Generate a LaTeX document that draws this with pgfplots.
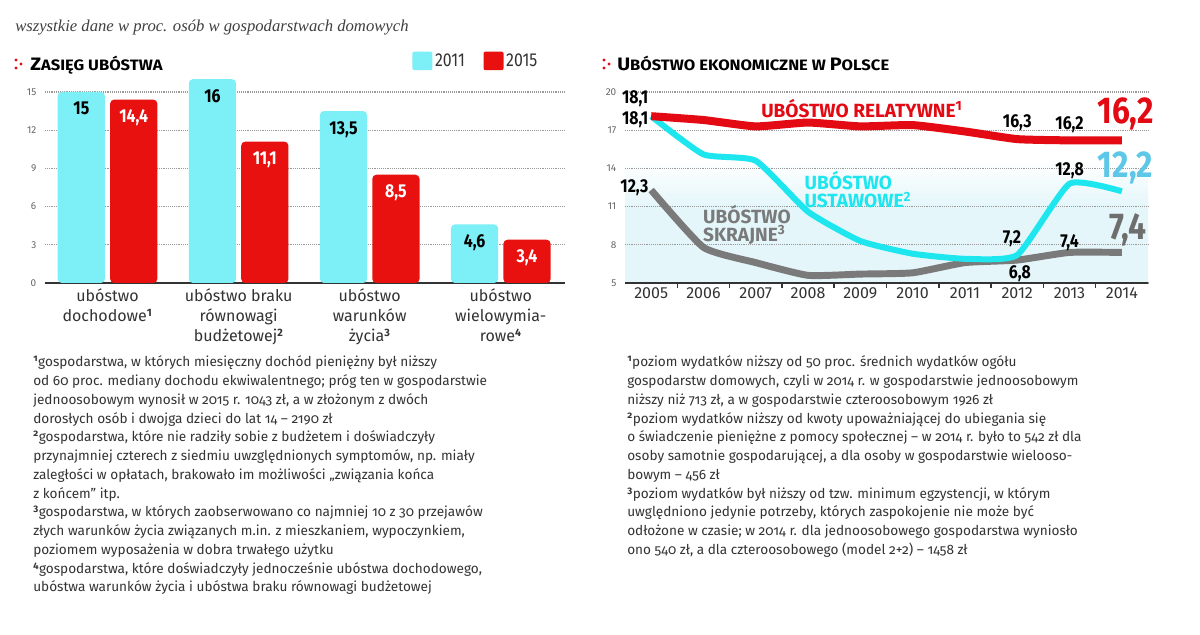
\documentclass[border=0pt]{standalone}
\usepackage{fontspec}
\setmainfont{Fira Sans}
\newfontfamily\cond{Fira Sans}[FakeStretch=0.85]
\newfontfamily\wide{Fira Sans}[FakeStretch=1.1]
\newfontfamily\subfont{Liberation Serif}
\usepackage{pgfplots}
\pgfplotsset{compat=1.18}
\definecolor{cbar}{HTML}{7DEFF7}
\definecolor{rbar}{HTML}{E8110F}
\definecolor{rline}{HTML}{E30A13}
\definecolor{cline}{HTML}{1EE6EF}
\definecolor{gline}{HTML}{7A7A7A}
\definecolor{clab}{HTML}{5CC7E6}
\definecolor{glab}{HTML}{6E6E6E}
\definecolor{txt}{HTML}{333333}
\definecolor{tint}{HTML}{E4F6FA}
\pgfdeclareverticalshading{tintshade}{100bp}{color(0bp)=(tint); color(45bp)=(tint); color(57bp)=(white); color(100bp)=(white)}
\newcommand\fnfont{\fontsize{10.2}{12}\selectfont\addfontfeatures{Numbers=OldStyle}}
\newcommand\fl[3]{\node[anchor=base west, inner sep=0pt, font=\fnfont, text=txt] at (#1,635-#2) {#3};}
\newcommand\fsup[1]{\textsuperscript{\bfseries #1}}
\newcommand\fsc[2]{{\fontsize{13.5}{13.5}\selectfont #1}{\fontsize{11.3}{11.3}\selectfont #2}}
\newcommand\icon[2]{\fill[rline] (#1,635-#2-4) circle (1.7); \fill[rline] (#1,635-#2+4) circle (1.7); \fill[rline] (#1+5,635-#2) circle (1.7);}
\tikzset{
  lab/.style={inner sep=0pt, font=\cond\bfseries\fontsize{14}{14}\selectfont, text=black},
  big/.style={inner sep=0pt, font=\cond\bfseries\fontsize{28}{28}\selectfont},
  ser/.style={inner sep=0pt, anchor=west, align=left, font=\bfseries\fontsize{14.3}{13.5}\selectfont},
}
\begin{document}
\begin{tikzpicture}[x=0.75pt,y=0.75pt]
\fill[white] (0,0) rectangle (1200,635);
\path[use as bounding box] (0,0) rectangle (1200,635);
% subtitle
\node[anchor=base west, inner sep=0pt, font=\subfont\itshape\fontsize{12.5}{13}\selectfont, text=black!75] at (15,635-31.5) {wszystkie dane w proc. osób w gospodarstwach domowych};
% titles
\icon{16}{64}
\node[anchor=base west, inner sep=0pt, font=\wide\bfseries] at (30,635-71) {\fsc{Z}{ASIĘG UBÓSTWA}};
\icon{604}{64}
\node[anchor=base west, inner sep=0pt, font=\wide\bfseries] at (617,635-71) {\fsc{U}{BÓSTWO EKONOMICZNE W }\fsc{P}{OLSCE}};

% ---------------- left chart
\begin{axis}[
  at={(33.75pt,264pt)}, anchor=south west,
  scale only axis, width=390pt, height=157.6pt,
  xmin=-0.477, xmax=3.49, ymin=0, ymax=16.5,
  axis x line*=bottom, axis y line*=left,
  y axis line style={draw=none},
  x axis line style={line width=1.3pt, draw=black!80},
  xtick={0,1,2,3},
  xticklabels={ubóstwo\\dochodowe\fsup{1}, ubóstwo braku\\równowagi\\budżetowej\fsup{2}, ubóstwo\\warunków\\życia\fsup{3}, ubóstwo\\wielowymia-\\rowe\fsup{4}},
  major tick length=0pt,
  xticklabel style={align=center, font=\fontsize{12}{15}\selectfont, text=txt, yshift=-1pt},
  ytick={0,3,6,9,12,15},
  yticklabel style={font=\fontsize{7.5}{8}\selectfont, text=black!60, xshift=-3pt},
  ymajorgrids, grid style={densely dotted, line width=1pt, black!40},
  /pgf/number format/assume math mode=true,
  /pgf/number format/use comma, /pgf/number format/fixed, /pgf/number format/precision=1,
  clip=false,
  legend style={draw=none, fill=none, at={(0.706,1.057)}, anchor=west, legend columns=2, inner sep=0pt, font=\cond\fontsize{14}{14}\selectfont, text=txt, /tikz/every even column/.append style={column sep=12pt}},
]
\addplot[ybar, fill=cbar, draw=none, bar width=0.36, bar shift=-0.2, rounded corners=3pt,
  nodes near coords, nodes near coords style={anchor=north, xshift=-19.65pt, yshift=-7.5pt, inner sep=0pt, font=\cond\bfseries\fontsize{14}{14}\selectfont, text=black},
  legend image code/.code={\fill[cbar, rounded corners=1.5pt] (0pt,-7pt) rectangle (15pt,7pt);}]
  coordinates {(0,15) (1,16) (2,13.5) (3,4.6)};
\addlegendentry{2011}
\addplot[ybar, fill=rbar, draw=none, bar width=0.36, bar shift=0.2, rounded corners=3pt,
  nodes near coords, nodes near coords style={anchor=north, xshift=19.65pt, yshift=-7.5pt, inner sep=0pt, font=\cond\bfseries\fontsize{14}{14}\selectfont, text=white},
  legend image code/.code={\fill[rbar, rounded corners=1.5pt] (0pt,-7pt) rectangle (15pt,7pt);}]
  coordinates {(0,14.4) (1,11.1) (2,8.5) (3,3.4)};
\addlegendentry{2015}
\end{axis}

% ---------------- right chart
\begin{axis}[
  at={(468.75pt,264pt)}, anchor=south west,
  scale only axis, width=392.25pt, height=143.25pt,
  xmin=2004.5, xmax=2014.5, ymin=5, ymax=20,
  axis x line*=bottom, axis y line*=left, y axis line style={draw=none},
  x axis line style={line width=1.3pt, draw=black!80},
  xtick={2005,...,2014}, minor xtick={2005.5,2006.5,...,2013.5},
  major tick length=0pt, minor tick length=4pt, tick align=outside,
  minor tick style={line width=1.2pt, black!80},
  xticklabel style={font=\fontsize{12}{12}\selectfont, text=txt, /pgf/number format/.cd, 1000 sep={}},
  ytick={5,8,11,14,17,20},
  yticklabel style={font=\fontsize{7.5}{8}\selectfont, text=black!60, xshift=-3pt},
  ymajorgrids, grid style={densely dotted, line width=1pt, black!40},
  /pgf/number format/assume math mode=true,
  axis background/.style={shading=tintshade},
  clip=false,
]
\addplot[gline, line width=5.2pt, smooth, tension=0.3, line join=round] coordinates
  {(2005,12.3) (2006,7.8) (2007,6.6) (2008,5.6) (2009,5.7) (2010,5.8) (2011,6.6) (2012,6.8) (2013,7.4) (2014,7.4)};
\addplot[cline, line width=4.5pt, smooth, tension=0.3, line join=round] coordinates
  {(2005,18.1) (2006,15.1) (2007,14.6) (2008,10.6) (2009,8.3) (2010,7.3) (2011,6.9) (2012,7.2) (2013,12.8) (2014,12.2)};
\addplot[rline, line width=6pt, smooth, tension=0.3, line join=round] coordinates
  {(2005,18.1) (2006,17.8) (2007,17.3) (2008,17.6) (2009,17.3) (2010,17.4) (2011,16.9) (2012,16.3) (2013,16.2) (2014,16.2)};
% value labels
\node[lab, anchor=east] at (axis cs:2004.95,19.45) {18,1};
\node[lab, anchor=east] at (axis cs:2004.95,17.8) {18,1};
\node[lab, anchor=east] at (axis cs:2004.95,12.45) {12,3};
\node[lab] at (axis cs:2012,17.55) {16,3};
\node[lab] at (axis cs:2013,17.4) {16,2};
\node[lab] at (axis cs:2013,13.85) {12,8};
\node[lab] at (axis cs:2011.9,8.5) {7,2};
\node[lab] at (axis cs:2012.05,5.75) {6,8};
\node[lab] at (axis cs:2013,8.2) {7,4};
\node[big, text=rline] at (axis cs:2014.07,18.25) {16,2};
\node[big, text=clab] at (axis cs:2014.07,14.0) {12,2};
\node[big, text=glab] at (axis cs:2014.12,9.2) {7,4};
% series labels
\node[ser, text=rline] at (axis cs:2007.1,18.7) {UBÓSTWO RELATYWNE\fsup{1}};
\node[ser, text=cline] at (axis cs:2007.93,12.3) {UBÓSTWO\\USTAWOWE\fsup{2}};
\node[ser, text=gline] at (axis cs:2005.99,9.55) {UBÓSTWO\\SKRAJNE\fsup{3}};
\end{axis}

% ---------------- footnotes left
\fl{33}{366.8}{\fsup{1}gospodarstwa, w których miesięczny dochód pieniężny był niższy}
\fl{33}{385.6}{od 60 proc. mediany dochodu ekwiwalentnego; próg ten w gospodarstwie}
\fl{33}{404.3}{jednoosobowym wynosił w 2015 r. 1043 zł, a w złożonym z dwóch}
\fl{33}{423.1}{dorosłych osób i dwojga dzieci do lat 14 – 2190 zł}
\fl{33}{441.8}{\fsup{2}gospodarstwa, które nie radziły sobie z budżetem i doświadczyły}
\fl{33}{460.6}{przynajmniej czterech z siedmiu uwzględnionych symptomów, np. miały}
\fl{33}{479.3}{zaległości w opłatach, brakowało im możliwości „związania końca}
\fl{33}{498.1}{z końcem” itp.}
\fl{33}{516.8}{\fsup{3}gospodarstwa, w których zaobserwowano co najmniej 10 z 30 przejawów}
\fl{33}{535.6}{złych warunków życia związanych m.in. z mieszkaniem, wypoczynkiem,}
\fl{33}{554.3}{poziomem wyposażenia w dobra trwałego użytku}
\fl{33}{573.1}{\fsup{4}gospodarstwa, które doświadczyły jednocześnie ubóstwa dochodowego,}
\fl{33}{591.8}{ubóstwa warunków życia i ubóstwa braku równowagi budżetowej}
% ---------------- footnotes right
\fl{627}{366.8}{\fsup{1}poziom wydatków niższy od 50 proc. średnich wydatków ogółu}
\fl{627}{385.6}{gospodarstw domowych, czyli w 2014 r. w gospodarstwie jednoosobowym}
\fl{627}{404.3}{niższy niż 713 zł, a w gospodarstwie czteroosobowym 1926 zł}
\fl{627}{423.1}{\fsup{2}poziom wydatków niższy od kwoty upoważniającej do ubiegania się}
\fl{627}{441.8}{o świadczenie pieniężne z pomocy społecznej – w 2014 r. było to 542 zł dla}
\fl{627}{460.6}{osoby samotnie gospodarującej, a dla osoby w gospodarstwie wielooso-}
\fl{627}{479.3}{bowym – 456 zł}
\fl{627}{498.1}{\fsup{3}poziom wydatków był niższy od tzw. minimum egzystencji, w którym}
\fl{627}{516.8}{uwględniono jedynie potrzeby, których zaspokojenie nie może być}
\fl{627}{535.6}{odłożone w czasie; w 2014 r. dla jednoosobowego gospodarstwa wyniosło}
\fl{627}{554.3}{ono 540 zł, a dla czteroosobowego (model 2+2) – 1458 zł}
\end{tikzpicture}
\end{document}
